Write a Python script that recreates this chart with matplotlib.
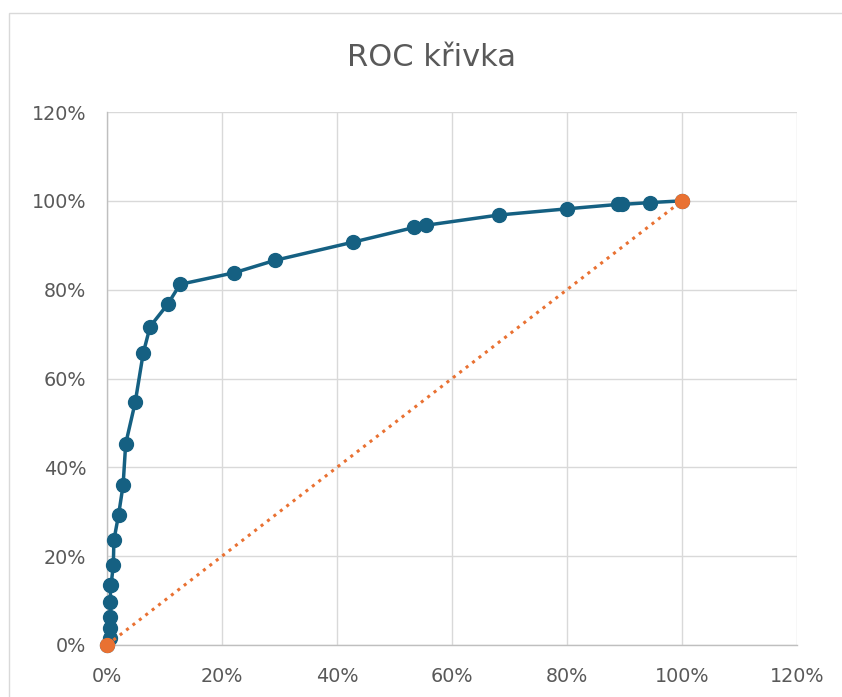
import matplotlib.pyplot as plt
from matplotlib.patches import Rectangle
from matplotlib.ticker import FuncFormatter

# false positive rate / true positive rate
fpr = [0.000, 0.006, 0.006, 0.006, 0.006, 0.006, 0.007, 0.011, 0.012, 0.020,
       0.028, 0.0325, 0.049, 0.063, 0.075, 0.106, 0.127, 0.221, 0.292, 0.428,
       0.534, 0.555, 0.681, 0.800, 0.889, 0.896, 0.944, 1.000]
tpr = [0.000, 0.015, 0.038, 0.064, 0.096, 0.134, 0.134, 0.180, 0.236, 0.292,
       0.360, 0.453, 0.546, 0.657, 0.717, 0.768, 0.812, 0.838, 0.866, 0.907,
       0.940, 0.945, 0.968, 0.982, 0.992, 0.992, 0.996, 1.000]

diag_x = [0.0, 1.0]
diag_y = [0.0, 1.0]

ticks = [0.0, 0.2, 0.4, 0.6, 0.8, 1.0, 1.2]

blue = '#156082'
orange = '#E97132'
grey = '#595959'

fig = plt.figure(figsize=(8.42, 6.97), dpi=100)
ax = fig.add_axes([107 / 842, 52 / 697, 690 / 842, 533 / 697])

ax.plot(fpr, tpr, color=blue, lw=2.5, marker='o', ms=10, zorder=3,
        clip_on=False)
ax.plot(diag_x, diag_y, color=orange, lw=2.2, linestyle=(0, (1, 1.65)),
        marker='o', ms=10, zorder=4, clip_on=False)

ax.set_xlim(0, 1.2)
ax.set_ylim(0, 1.2)
ax.set_xticks(ticks)
ax.set_yticks(ticks)
pct = FuncFormatter(lambda v, p: '%d%%' % round(v * 100))
ax.xaxis.set_major_formatter(pct)
ax.yaxis.set_major_formatter(pct)
ax.tick_params(length=0, labelsize=13.8, labelcolor=grey)
ax.tick_params(axis='y', pad=15)
ax.tick_params(axis='x', pad=16)
ax.grid(True, color='#D9D9D9', lw=1)
ax.set_axisbelow(True)
for s in ['top', 'right']:
    ax.spines[s].set_visible(False)
for s in ['left', 'bottom']:
    ax.spines[s].set_color('#BFBFBF')
    ax.spines[s].set_linewidth(1)
    ax.spines[s].set_zorder(2)

fig.text(431 / 842, 1 - 58 / 697, 'ROC křivka', ha='center', va='center',
         fontsize=22, color=grey)

# chart area border
fig.patches.append(Rectangle((9 / 842, -0.1), 1.1, 1 - 13 / 697 + 0.1,
                             transform=fig.transFigure, fill=False,
                             edgecolor='#D9D9D9', lw=1))

plt.savefig('out.png', dpi=100)
